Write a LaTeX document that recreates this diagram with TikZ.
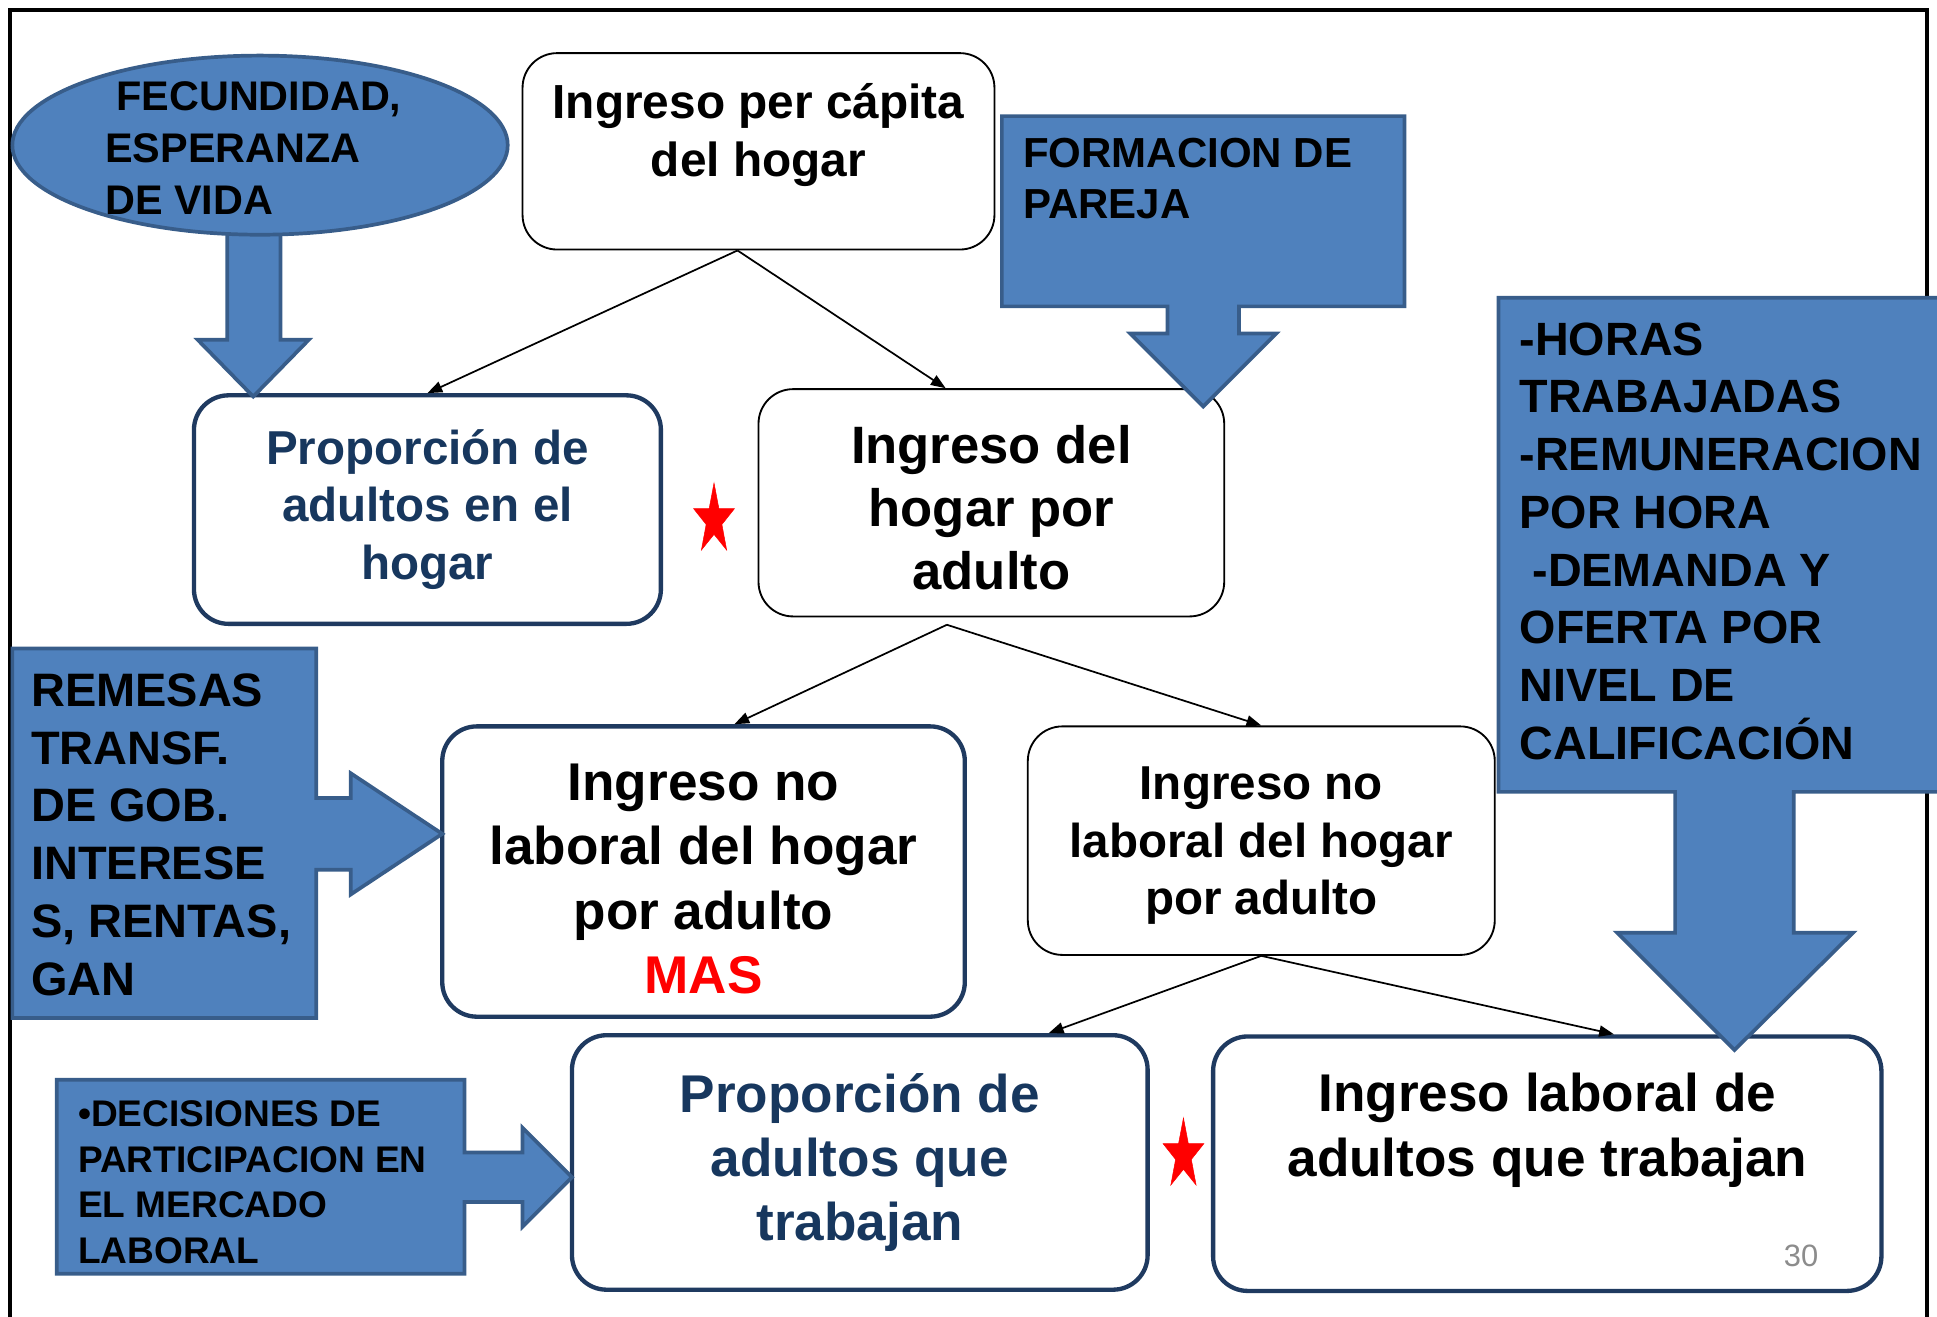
\documentclass[tikz,border=0pt]{standalone}
\usepackage{fontspec}
\setmainfont{Liberation Sans}
\usetikzlibrary{arrows.meta,shapes.geometric}

\definecolor{calloutblue}{HTML}{4F81BD}
\definecolor{calloutedge}{HTML}{385D8A}
\definecolor{boxnavy}{HTML}{1F3A60}
\definecolor{textnavy}{HTML}{17375E}
\definecolor{pagegray}{HTML}{8C8C8C}

\newcommand{\fsz}[2]{\fontsize{#1pt}{#2pt}\selectfont}

\tikzset{
  whitebox/.style={draw=black, line width=1.5pt, fill=white, rounded corners=28pt, align=center, inner sep=0pt},
  navybox/.style={whitebox, draw=boxnavy, line width=3.5pt},
  callout/.style={fill=calloutblue, draw=calloutedge, line width=3pt},
  calltext/.style={anchor=north west, inner sep=0pt, align=left},
  flow/.style={-{Triangle[length=12pt,width=9pt]}, line width=1.4pt},
  redstar/.style={star, star points=5, star point ratio=2.6, fill=red, draw=red, minimum size=60pt, inner sep=0pt, xscale=0.58, transform shape}
}

\begin{document}
\begin{tikzpicture}[x=1pt, y=-1pt]
  \useasboundingbox (0,0) rectangle (1568,1066);

  % FRAME
  \draw[line width=3pt] (8,1070) -- (8,8) -- (1560,8) -- (1560,1070);

  % BOXES
  \node[whitebox, minimum width=382pt, minimum height=159pt,
    label={[name=pctext, align=center, font=\fsz{38.7}{47}\bfseries, yshift=13pt]center:{Ingreso per cápita\\del hogar}}] (pc) at (614,122.5) {};
  \node[navybox, text=textnavy, font=\fsz{38.5}{46.5}\bfseries, minimum width=378pt, minimum height=185pt] (pah) at (346,412.5) {Proporción de\\adultos en el\\hogar};
  \node[whitebox, minimum width=377pt, minimum height=184pt,
    label={[name=ihatext, align=center, font=\fsz{42.6}{51}\bfseries, yshift=-4pt]center:{Ingreso del\\hogar por\\adulto}}] (iha) at (802.5,407) {};
  \node[navybox, minimum width=423pt, minimum height=235pt,
    label={[name=inltext, align=center, font=\fsz{43}{52}\bfseries, yshift=-6pt]center:{Ingreso no\\laboral del hogar\\por adulto\\\textcolor{red}{MAS}}}] (inl) at (569.5,705.5) {};
  \node[whitebox, minimum width=378pt, minimum height=185pt,
    label={[name=inlbtext, align=center, font=\fsz{38.5}{46.5}\bfseries, yshift=-4pt]center:{Ingreso no\\laboral del hogar\\por adulto}}] (inlb) at (1021,680.5) {};
  \node[navybox, text=textnavy, font=\fsz{43}{52}\bfseries, minimum width=466pt, minimum height=206pt] (pat) at (696,941) {Proporción de\\adultos que\\trabajan};
  \node[navybox, minimum width=541pt, minimum height=206pt,
    label={[name=ilttext, align=center, font=\fsz{43}{52}\bfseries, yshift=27pt]center:{Ingreso laboral de\\adultos que trabajan}}] (ilt) at (1252.5,942) {};
  \node[font=\fsz{25}{30}, text=pagegray, inner sep=0pt] (pgnum) at (1458,1017) {30};

  % STARS
  \node[redstar] (star1) at (578,421) {};
  \node[redstar] (star2) at (958,935) {};

  % CONNECTORS
  \draw[flow] ([xshift=-17pt]pc.south) -- (pah.north);
  \draw[flow] ([xshift=-17pt]pc.south) -- ([xshift=-37pt]iha.north);
  \draw[flow] ([xshift=-36pt,yshift=-6pt]iha.south) -- ([xshift=25pt]inl.north);
  \draw[flow] ([xshift=-36pt,yshift=-6pt]iha.south) -- (inlb.north);
  \draw[flow] (inlb.south) -- ([xshift=153pt]pat.north);
  \draw[flow] (inlb.south) -- ([xshift=54pt]ilt.north);

  % CALLOUTS
  \draw[callout] (184,180) -- (227,180) -- (227,275) -- (250,275) -- (205,321) -- (160,275) -- (184,275) -- cycle;
  \node[ellipse, callout, minimum width=401pt, minimum height=145pt, inner sep=0pt] (fec) at (210.5,117.5) {};
  \node[calltext, font=\fsz{33.5}{42}\bfseries] (fectext) at (85,66) {\hspace*{9pt}FECUNDIDAD,\\ESPERANZA\\DE VIDA};

  \draw[callout] (811,94) -- (1137,94) -- (1137,248) -- (1003,248) -- (1003,270) -- (1033,270) -- (974,329)
    -- (915,270) -- (945,270) -- (945,248) -- (811,248) -- cycle;
  \node[calltext, font=\fsz{34}{41}\bfseries] (fortext) at (828,112) {FORMACION DE\\PAREJA};

  \draw[callout] (1213,241) -- (1580,241) -- (1580,641) -- (1452,641) -- (1452,755) -- (1500,755) -- (1404,850)
    -- (1309,755) -- (1356,755) -- (1356,641) -- (1213,641) -- cycle;
  \node[calltext, font=\fsz{37.8}{46.7}\bfseries] (hortext) at (1230,261) {-HORAS\\TRABAJADAS\\-REMUNERACION\\POR HORA\\\hspace*{10.4pt}-DEMANDA Y\\OFERTA POR\\NIVEL DE\\CALIFICACIÓN};

  \draw[callout] (10,525) -- (256,525) -- (256,646) -- (284,646) -- (284,626) -- (358,675) -- (284,724)
    -- (284,704) -- (256,704) -- (256,824) -- (10,824) -- cycle;
  \node[calltext, font=\fsz{38}{46.8}\bfseries] (remtext) at (25,545) {REMESAS\\TRANSF.\\DE GOB.\\INTERESE\\S, RENTAS,\\GAN};

  \draw[callout] (46,874) -- (376,874) -- (376,933) -- (423,933) -- (423,913) -- (463,953) -- (423,993)
    -- (423,973) -- (376,973) -- (376,1031) -- (46,1031) -- cycle;
  \node[calltext, font=\fsz{30}{36.8}\bfseries] (dectext) at (63,891) {•DECISIONES DE\\PARTICIPACION EN\\EL MERCADO\\LABORAL};
\end{tikzpicture}
\end{document}
